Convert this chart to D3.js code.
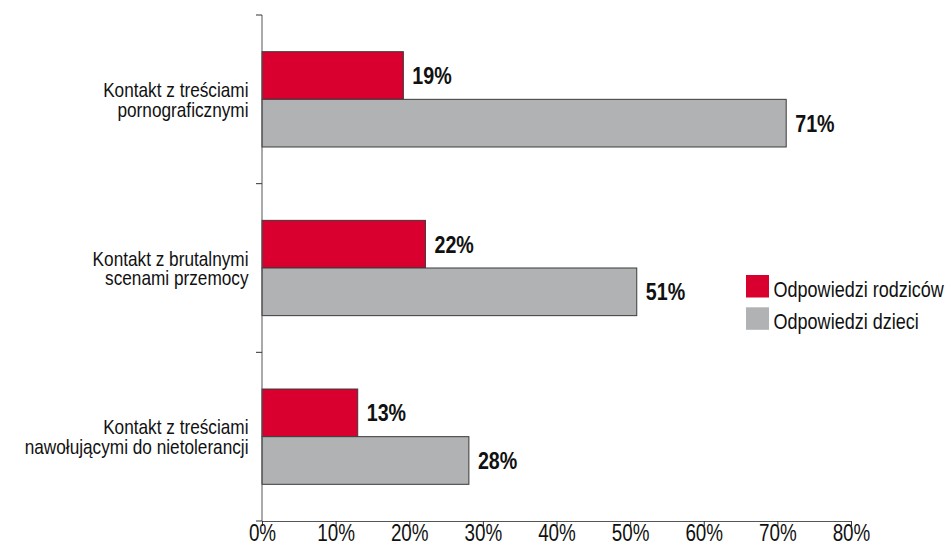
<!DOCTYPE html>
<html>
<head>
<meta charset="utf-8">
<script src="https://cdn.jsdelivr.net/npm/d3@7"></script>
<style>
  body { margin: 0; background: #fff; }
  text { font-family: "Liberation Sans", Arial, sans-serif; fill: #111; }
</style>
</head>
<body>
<div id="chart"></div>
<script>
// categories (multi-line labels) and series values
const categories = [
  ["Kontakt z treściami", "pornograficznymi"],
  ["Kontakt z brutalnymi", "scenami przemocy"],
  ["Kontakt z treściami", "nawołującymi do nietolerancji"]
];
const seriesNames = ["Odpowiedzi rodziców", "Odpowiedzi dzieci"];
const parents = [19.2, 22.2, 13.0];
const children = [71.2, 50.9, 28.1];
const valueLabels = [["19%", "71%"], ["22%", "51%"], ["13%", "28%"]];
const xTicks = [0, 10, 20, 30, 40, 50, 60, 70, 80];
const colors = ["#d9002f", "#b1b2b4"];

const width = 946, height = 552;
const margin = {left: 262, right: 95, top: 15, bottom: 31};
// narrow (condensed) look: squeeze glyphs horizontally
const narrow = 0.82;

const svg = d3.select("#chart").append("svg")
    .attr("width", width)
    .attr("height", height);

const x = d3.scaleLinear()
    .domain([0, 80])
    .range([margin.left, width - margin.right]);

const keys = categories.map((c, i) => i);
const y = d3.scaleBand()
    .domain(keys)
    .range([margin.top, height - margin.bottom]);

const ySub = d3.scaleBand()
    .domain([0, 1])
    .range([0, y.bandwidth()])
    .paddingInner(0)
    .paddingOuter(0.77);

const rows = keys.map(i => [parents[i], children[i]]);

// bars
const groups = svg.selectAll("g.cat")
    .data(rows)
    .enter()
    .append("g")
    .attr("class", "cat")
    .attr("transform", (d, i) => "translate(0," + y(i) + ")");

groups.selectAll("rect")
    .data(d => d)
    .enter()
    .append("rect")
    .attr("x", x(0))
    .attr("y", (d, j) => ySub(j))
    .attr("width", d => x(d) - x(0))
    .attr("height", ySub.bandwidth())
    .attr("fill", (d, j) => colors[j])
    .attr("stroke", "#3a3a3a")
    .attr("stroke-width", 1);

groups.selectAll("text.val")
    .data((d, i) => d.map((v, j) => ({v: v, label: valueLabels[i][j], j: j})))
    .enter()
    .append("text")
    .attr("class", "val")
    .attr("transform", d => "translate(" + (x(d.v) + 9) + "," + (ySub(d.j) + ySub.bandwidth() / 2) + ") scale(" + narrow + ",1)")
    .attr("dy", "0.36em")
    .style("font-size", "24px")
    .style("font-weight", "bold")
    .text(d => d.label);

// x axis
const xAxis = svg.append("g")
    .attr("transform", "translate(0," + (height - margin.bottom) + ")")
    .call(d3.axisBottom(x).tickValues(xTicks).tickFormat(d => d + "%").tickSize(5).tickSizeOuter(0));
xAxis.select(".domain").attr("stroke", "#555");
xAxis.selectAll(".tick line").attr("stroke", "#333");
xAxis.selectAll(".tick text")
    .attr("dy", null)
    .attr("y", 20)
    .attr("transform", "scale(" + narrow + ",1)")
    .style("font-size", "23px")
    .attr("fill", "#111");

// y axis line with ticks at band boundaries
svg.append("line")
    .attr("x1", x(0)).attr("x2", x(0))
    .attr("y1", margin.top).attr("y2", height - margin.bottom)
    .attr("stroke", "#555");
const bounds = keys.map(i => y(i)).concat([height - margin.bottom]);
svg.selectAll("line.ytick")
    .data(bounds)
    .enter()
    .append("line")
    .attr("class", "ytick")
    .attr("x1", x(0) - 6).attr("x2", x(0))
    .attr("y1", d => d).attr("y2", d => d)
    .attr("stroke", "#333");

// category labels
const catLabels = svg.selectAll("text.cat")
    .data(categories)
    .enter()
    .append("text")
    .attr("class", "cat")
    .attr("text-anchor", "end")
    .style("font-size", "21px")
    .attr("transform", (d, i) => "translate(" + (x(0) - 13.5) + "," + (y(i) + y.bandwidth() / 2) + ") scale(" + narrow + ",1)");
catLabels.selectAll("tspan")
    .data(d => d)
    .enter()
    .append("tspan")
    .attr("x", 0)
    .attr("y", (d, k) => (k - 0.5) * 19.5)
    .attr("dy", "0.36em")
    .text(d => d);

// legend
const legend = svg.selectAll("g.legend")
    .data(seriesNames)
    .enter()
    .append("g")
    .attr("class", "legend")
    .attr("transform", (d, i) => "translate(746," + (275 + i * 32.3) + ")");
legend.append("rect")
    .attr("width", 23).attr("height", 22.5)
    .attr("fill", (d, i) => colors[i]);
legend.append("text")
    .attr("transform", "translate(27.5,21.5) scale(" + narrow + ",1)")
    .style("font-size", "22px")
    .text(d => d);
</script>
</body>
</html>
